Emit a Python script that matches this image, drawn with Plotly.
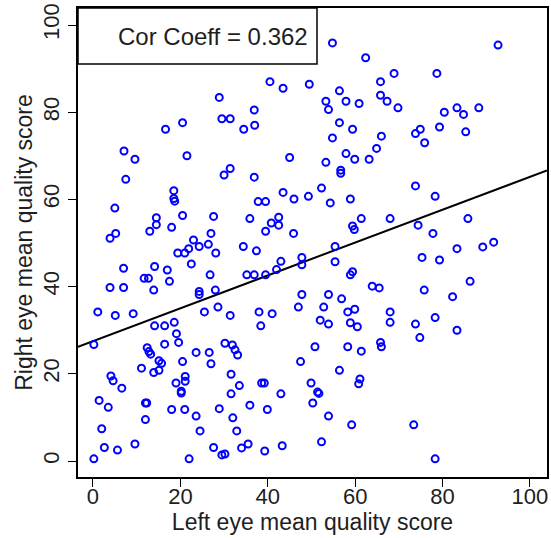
import numpy as np
import plotly.graph_objects as go

left_eye = [
    28.9, 29.5, 31.4, 20.5, 16.6, 7.1, 9.6, 21.5, 31.4,
    54.8, 62.4, 40.5, 43.5, 49.5, 65.8, 65.8, 56.4, 53.3, 53.9, 57.9, 60.9, 36.9, 34.5, 37.0,
    56.4, 59.4, 54.8, 66.0, 64.9, 57.9, 59.9, 63.2, 45.0, 53.3, 56.7,
    92.7, 68.9, 78.7, 67.3, 69.8, 80.4, 83.3, 84.8, 88.3, 74.9, 73.8, 75.9, 79.3, 85.3,
    7.5, 30.0, 18.5, 18.5, 18.7, 5.0, 14.5, 14.5, 13.0, 18.0, 20.5, 27.6, 27.0, 5.2, 3.9,
    23.0, 21.9, 24.3, 26.4, 19.4, 21.0, 28.1, 22.5, 14.1, 7.0, 17.0, 11.7, 12.7, 17.5, 26.8,
    3.9, 7.0, 13.9, 24.3, 24.3, 28.0, 1.1, 5.1, 9.2, 25.5, 28.6, 31.4, 14.1, 16.4, 18.6,
    36.9, 56.7, 43.5, 46.0, 49.3, 52.3, 54.3, 58.9, 37.8, 39.5, 35.9, 42.5, 40.8, 42.5, 39.5,
    45.9, 59.4, 59.8, 61.4, 34.4, 37.4, 55.4, 43.0, 47.8, 47.8, 55.4, 42.0, 35.2, 36.9, 39.5,
    58.9, 59.4, 63.9, 65.5, 47.8, 53.9, 56.9, 47.0, 52.8, 58.3, 59.9, 38.0, 41.0, 38.4, 52.0,
    53.9, 58.9, 60.5,
    73.8, 78.3, 68.0, 74.4, 77.8, 85.8, 83.3, 89.2, 91.7, 75.3, 79.3, 75.8, 82.3, 86.3, 68.0,
    68.0, 73.8, 78.3, 83.3,
    74.8, 65.8, 66.0, 73.4, 78.3,
    50.8, 58.3, 61.4, 30.2, 31.9, 32.5, 33.1, 47.5, 56.4, 31.6, 33.5, 38.6, 39.2, 43.0, 49.9,
    51.4, 51.7, 50.3, 61.1, 60.8, 31.6, 35.9, 39.9, 53.9, 59.2, 32.0, 32.9, 34.0, 35.5, 39.3,
    43.3, 52.3, 30.2,
    19.1, 19.6, 16.4, 0.2, 12.4, 12.8, 13.2, 15.1, 15.7, 15.1, 13.9, 11.1, 20.5, 23.6, 26.6,
    27.0, 4.1, 4.6, 6.6, 21.1, 21.1, 19.0, 20.2, 20.2, 1.4, 3.5, 12.0, 12.3, 18.0, 21.0,
    23.6, 28.9, 12.0, 2.0, 24.5, 2.6, 5.6, 9.6, 27.6, 29.5, 0.2, 22.0,
]

right_eye = [
    83.4, 78.5, 78.5, 77.6, 76.1, 71.1, 69.2, 70.0, 67.1,
    95.9, 92.5, 87.0, 85.5, 86.4, 87.0, 83.9, 84.9, 82.5, 80.6, 82.5, 82.0, 80.5, 76.1, 77.0,
    77.6, 76.1, 74.1, 74.5, 71.7, 70.5, 69.2, 69.2, 69.6, 68.5, 66.7,
    95.4, 88.9, 88.9, 82.5, 81.0, 80.0, 81.0, 79.5, 81.0, 76.1, 75.1, 73.0, 76.6, 75.5,
    64.6, 65.6, 62.0, 60.2, 59.6, 58.0, 55.8, 54.2, 52.7, 53.6, 56.3, 56.1, 52.2, 52.2, 51.1,
    50.7, 48.7, 49.2, 49.7, 47.7, 47.7, 47.7, 45.2, 44.6, 44.2, 43.8, 41.9, 41.9, 41.2, 42.7,
    39.8, 39.8, 39.2, 38.9, 38.2, 39.2, 34.2, 33.4, 33.8, 34.2, 35.3, 33.4, 31.0, 31.0, 31.8,
    65.1, 66.0, 61.6, 60.1, 60.7, 62.6, 59.2, 60.1, 59.5, 59.5, 55.6, 55.9, 54.6, 54.1, 52.7,
    52.2, 53.9, 53.1, 55.6, 49.2, 48.2, 49.2, 45.8, 46.7, 45.0, 45.7, 43.9, 42.7, 42.7, 42.7,
    42.7, 43.4, 40.1, 39.7, 38.2, 38.2, 37.2, 35.3, 35.3, 34.2, 34.8, 34.2, 33.8, 31.0, 32.3,
    31.4, 31.7, 30.8,
    63.1, 60.7, 55.6, 54.1, 52.2, 55.6, 48.7, 49.1, 50.2, 46.7, 46.1, 39.2, 37.7, 41.2, 34.2,
    31.8, 31.4, 32.9, 30.0,
    28.3, 27.2, 26.2, 8.3, 0.5,
    26.2, 26.2, 25.2, 27.0, 26.6, 25.5, 24.3, 22.8, 20.8, 19.9, 17.3, 17.9, 17.9, 15.4, 17.9,
    15.8, 15.5, 13.3, 18.8, 17.7, 15.4, 12.8, 11.8, 10.3, 8.3, 9.9, 6.9, 3.0, 3.9, 2.3,
    3.5, 4.4, 1.6,
    29.2, 27.2, 26.8, 26.7, 26.0, 25.1, 24.5, 23.0, 22.4, 20.8, 20.3, 21.3, 22.8, 24.9, 24.9,
    22.3, 19.5, 18.4, 16.7, 19.4, 18.3, 17.9, 16.0, 15.6, 13.9, 12.3, 13.3, 13.3, 11.8, 11.8,
    10.3, 12.0, 9.5, 7.4, 6.9, 3.1, 2.5, 3.9, 3.1, 1.4, 0.5, 0.5,
]

cor_label = "Cor Coeff = 0.362"
tick_values = [0, 20, 40, 60, 80, 100]
x_title = "Left eye mean quality score"
y_title = "Right eye mean quality score"

x_range = [-3.43, 103.9]
y_range = [-3.67, 103.9]

xa = np.array(left_eye)
ya = np.array(right_eye)
slope, intercept = np.polyfit(xa, ya, 1)
line_x = np.array(x_range)
line_y = intercept + slope * line_x

FONT = "Liberation Sans, Arial, sans-serif"
TXT = "#1e1e1e"

fig = go.Figure()
fig.add_trace(go.Scatter(
    x=line_x, y=line_y, mode="lines",
    line=dict(color="black", width=2), hoverinfo="skip", showlegend=False,
))
fig.add_trace(go.Scatter(
    x=left_eye, y=right_eye, mode="markers",
    marker=dict(symbol="circle-open", size=7, color="#0000ff", line=dict(width=2, color="#0000ff")),
    showlegend=False,
))

axis_common = dict(
    showgrid=False, zeroline=False, showline=True, mirror=True, automargin=False,
    linecolor="black", linewidth=1.5, ticks="outside", ticklen=8, tickwidth=1.3,
    tickcolor="black", tickvals=tick_values, ticklabeloverflow="allow",
    tickfont=dict(family=FONT, size=22, color=TXT),
)

fig.update_layout(
    width=551, height=538,
    margin=dict(l=78, r=4, t=8, b=61, autoexpand=False),
    paper_bgcolor="white", plot_bgcolor="white",
    font=dict(family=FONT, color=TXT),
    xaxis=dict(range=x_range, ticklabelstandoff=-9, **axis_common,
               title=dict(text=x_title, font=dict(family=FONT, size=23, color=TXT), standoff=0)),
    yaxis=dict(range=y_range, tickangle=-90, **axis_common,
               title=dict(text=y_title, font=dict(family=FONT, size=23, color=TXT), standoff=0)),
    shapes=[dict(type="rect", xref="paper", yref="paper", x0=0, x1=0.5096, y0=0.8806, y1=1,
                 line=dict(color="black", width=1.5), fillcolor="white", layer="above")],
    annotations=[dict(text=cor_label, xref="paper", yref="paper", x=0.2868, y=0.939,
                      showarrow=False, font=dict(family=FONT, size=24, color=TXT),
                      xanchor="center", yanchor="middle")],
)

# remove the browser's default 8px body margin so the figure fills the window exactly
fig.write_html("out.html", config={"displayModeBar": False},
               post_script="document.body.style.margin='0px';document.body.style.overflow='hidden';")
